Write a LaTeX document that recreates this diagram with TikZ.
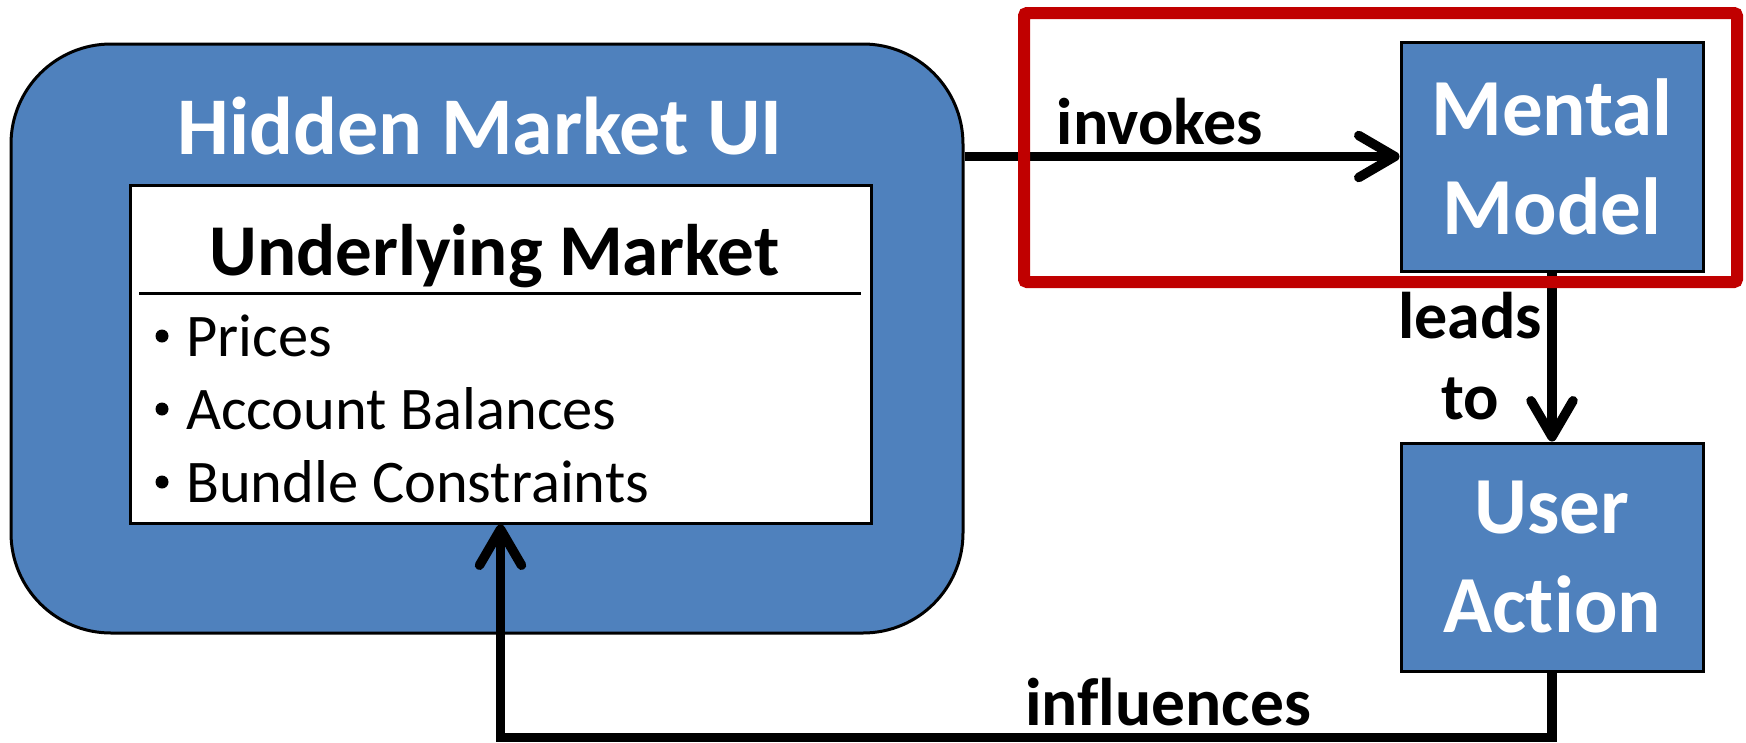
\documentclass[tikz,border=0pt]{standalone}
\usepackage{fontspec}
\setmainfont{Carlito}[Ligatures=NoCommon]
\usetikzlibrary{arrows.meta}
\definecolor{boxblue}{HTML}{4F81BD}
\definecolor{redc}{HTML}{C00000}
\begin{document}
\begin{tikzpicture}[x=1pt,y=-1pt,
  bluebox/.style={draw=black, line width=3pt, fill=boxblue, text=white,
    font=\bfseries\fontsize{81}{99}\selectfont, align=center, inner sep=0pt},
  lbl/.style={font=\bfseries\fontsize{66}{81}\selectfont, inner sep=0pt, anchor=base},
  itemtxt/.style={font=\fontsize{60.5}{70}\selectfont, inner sep=0pt, anchor=base west},
  dot/.style={circle, fill=black, minimum size=13pt, inner sep=0pt},
  arr/.style={line width=9.5pt, -{Straight Barb[length=36pt,width=42pt,round]}}]
\useasboundingbox (0,0) rectangle (1746,742);
% outer rounded box
\node[draw=black, line width=3pt, fill=boxblue, rounded corners=100pt,
  minimum width=952pt, minimum height=589pt, inner sep=0pt] (hm) at (487,338.5) {};
\node[font=\bfseries\fontsize{82}{98}\selectfont, text=white, inner sep=0pt, anchor=base] (hmt) at (480,154) {Hidden Market UI};
% inner box
\node[draw=black, line width=3pt, fill=white, minimum width=741pt, minimum height=338pt, inner sep=0pt] (um) at (500.5,354) {};
\node[font=\bfseries\fontsize{73}{88}\selectfont, inner sep=0pt, anchor=base] (umt) at (494.5,275) {Underlying Market};
\draw[line width=3pt] (139,293) -- (861,293);
\node[dot] (b1) at (162,336) {};
\node[itemtxt] (i1) at (186,356) {Prices};
\node[dot] (b2) at (162,409) {};
\node[itemtxt] (i2) at (186,429) {Account Balances};
\node[dot] (b3) at (162,482) {};
\node[itemtxt] (i3) at (186,502) {Bundle Constraints};
% right boxes
\node[bluebox, minimum width=302pt, minimum height=229pt] (mm) at (1552,156.5) {Mental\\Model};
\node[bluebox, minimum width=302pt, minimum height=228pt] (ua) at (1552,557) {User\\Action};
% connectors
\draw[arr] (mm.west -| hm.east) -- (mm.west);
\node[lbl] (linv) at (1160,144) {invokes};
\draw[arr] (mm.south) -- (ua.north);
\node[lbl] (lleads) at (1470,338) {leads};
\node[lbl] (lto) at (1470,419) {to};
\coordinate (c1) at (1000,737.5);
\draw[arr] (ua.south) |- (c1) -| (um.south);
\node[lbl, font=\bfseries\fontsize{67.5}{81}\selectfont] (linf) at (1168,725) {influences};
% red highlight
\node[draw=redc, line width=12pt, rounded corners=3pt, minimum width=713pt, minimum height=269pt, inner sep=0pt] (focus) at (1380.5,147.5) {};
\end{tikzpicture}
\end{document}
